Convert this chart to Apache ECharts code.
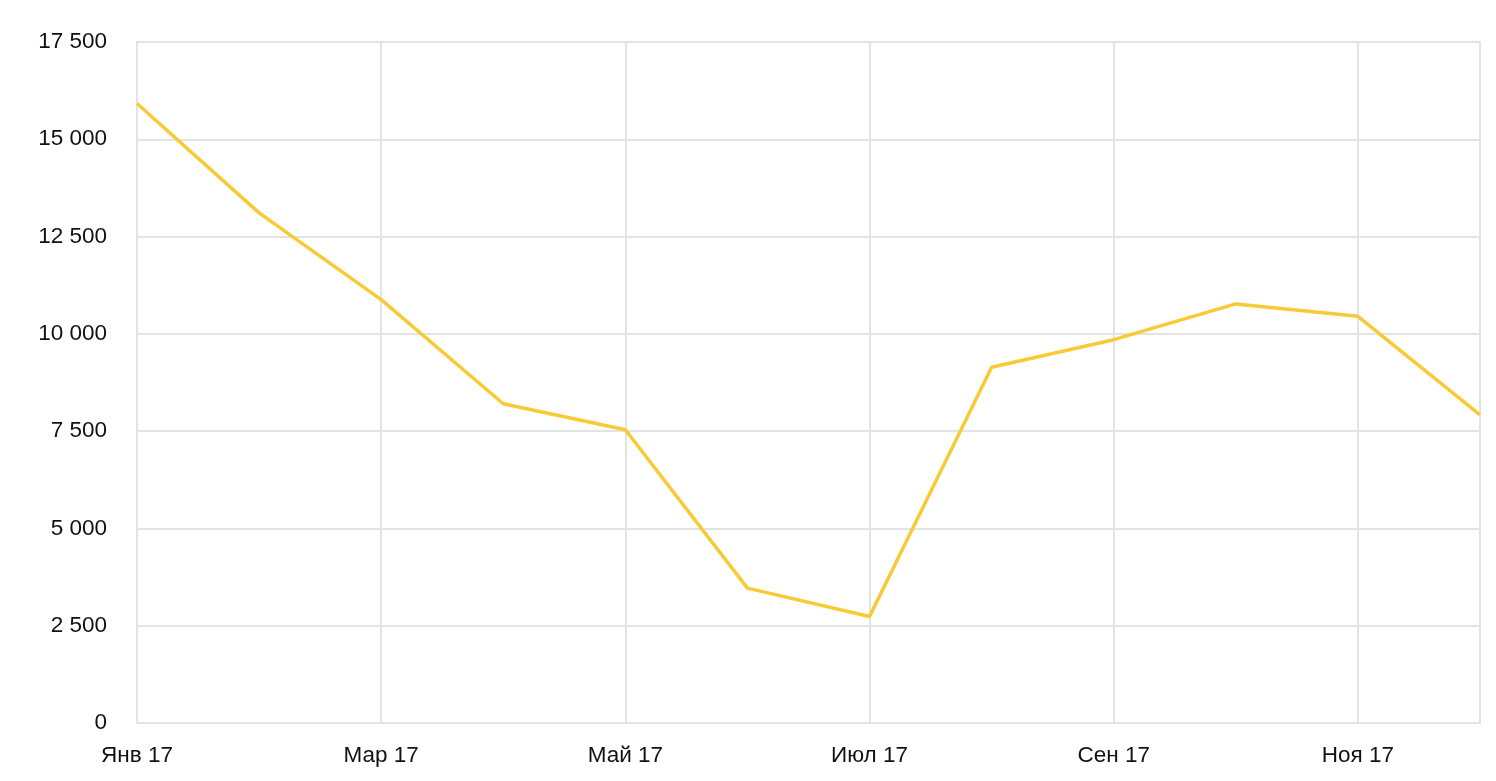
<!DOCTYPE html>
<html>
<head>
<meta charset="utf-8">
<script src="https://cdn.jsdelivr.net/npm/echarts@6/dist/echarts.min.js"></script>
<style>
html,body{margin:0;padding:0;background:#fff;}
#chart{width:1496px;height:781px;}
</style>
</head>
<body>
<div id="chart"></div>
<script>
const months = ['Янв 17','Фев 17','Мар 17','Апр 17','Май 17','Июн 17','Июл 17','Авг 17','Сен 17','Окт 17','Ноя 17','Дек 17'];
const values = [15920, 13110, 10880, 8205, 7535, 3465, 2735, 9140, 9850, 10770, 10450, 7920];
const yMin = 0, yMax = 17500, yStep = 2500;

function fmt(v){
  return String(v).replace(/\B(?=(\d{3})+(?!\d))/g, ' ');
}

const chart = echarts.init(document.getElementById('chart'), null, {renderer:'canvas'});
const gridColor = '#e3e3e3';
chart.setOption({
  animation:false,
  backgroundColor:'#fff',
  grid:{left:137, right:16, top:42, bottom:58, show:true, borderColor:gridColor, borderWidth:2, containLabel:false},
  xAxis:{
    type:'category',
    data:months,
    boundaryGap:false,
    axisLine:{show:true, lineStyle:{color:gridColor, width:2}},
    axisTick:{show:false},
    axisLabel:{interval:1, color:'#111', fontFamily:'Liberation Sans, Arial', fontSize:22.5, margin:21},
    splitLine:{show:true, interval:1, lineStyle:{color:gridColor, width:2}}
  },
  yAxis:{
    type:'value',
    min:yMin, max:yMax, interval:yStep,
    axisLine:{show:true, lineStyle:{color:gridColor, width:2}},
    axisTick:{show:false},
    axisLabel:{color:'#111', fontFamily:'Liberation Sans, Arial', fontSize:22.5, margin:30, formatter:fmt},
    splitLine:{show:true, lineStyle:{color:gridColor, width:2}}
  },
  series:[{
    type:'line',
    data:values,
    showSymbol:false,
    symbol:'none',
    lineStyle:{color:'#F7CB35', width:3.5},
    itemStyle:{color:'#F7CB35'}
  }]
});
</script>
</body>
</html>
